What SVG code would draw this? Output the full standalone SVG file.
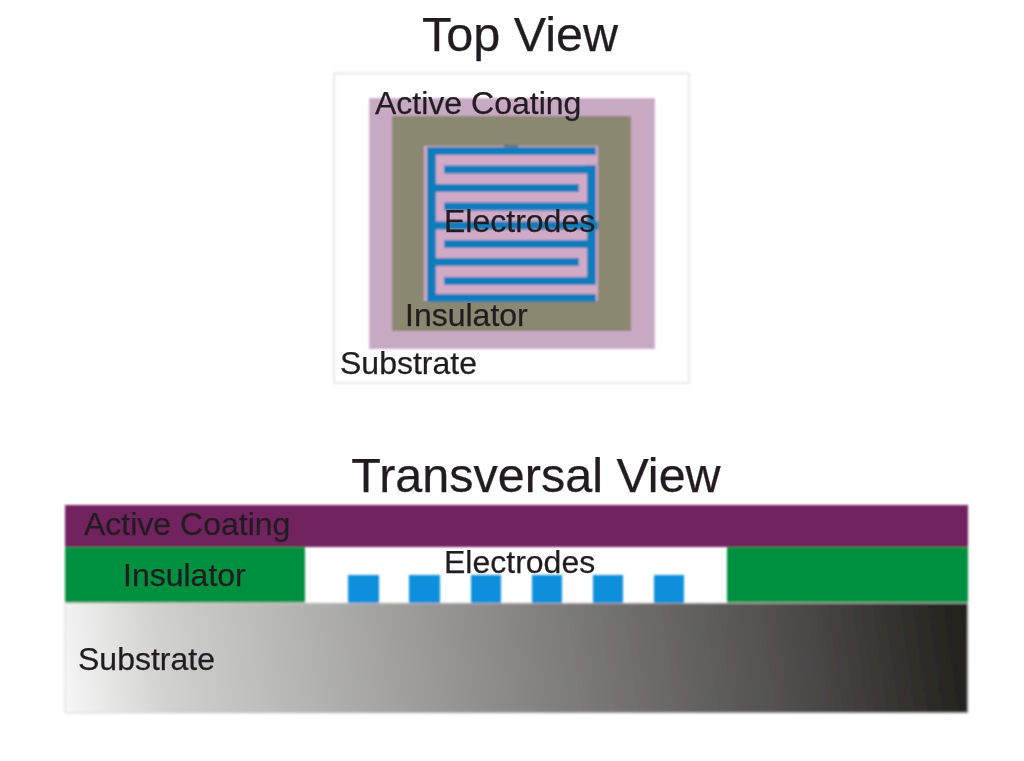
<svg xmlns="http://www.w3.org/2000/svg" width="1024" height="761" viewBox="0 0 1024 761">
<style>
text{font-family:"Liberation Sans",Arial,sans-serif;fill:#231f20;stroke:#231f20;stroke-width:0.25px}
.lab{font-size:32px}
.title{font-size:48.500px}
.e{fill:#0a7dbb}
.b{fill:#0f8fdc}
</style>
<defs>
<linearGradient id="sub" gradientUnits="userSpaceOnUse" x1="65" y1="725" x2="965" y2="600">
<stop offset="0" stop-color="#f8f8f8"/><stop offset="0.12" stop-color="#d0d0cf"/><stop offset="0.5" stop-color="#888786"/><stop offset="0.8" stop-color="#4f4d4c"/><stop offset="1" stop-color="#231f1c"/>
</linearGradient>
<filter id="soft" x="-2%" y="-2%" width="104%" height="104%"><feGaussianBlur stdDeviation="0.8"/></filter>
<filter id="softT" x="-5%" y="-20%" width="110%" height="140%"><feGaussianBlur stdDeviation="0.7"/></filter>
</defs>
<rect width="1024" height="761" fill="#fff"/>
<g filter="url(#soft)">
<g id="top-substrate"><rect x="334" y="73.500" width="355" height="309.500" fill="#fff" stroke="#e8e8e8" stroke-width="2"/></g>
<g id="top-coating"><rect x="369" y="98" width="286" height="251" fill="#c8a9c4"/></g>
<g id="top-insulator"><rect x="392" y="116" width="239" height="215" fill="#8a8871"/></g>
<g id="top-electrodes">
<rect x="424" y="146" width="174" height="155" fill="#d1aac8"/>
<rect x="504" y="144.500" width="14" height="4" fill="#6d7478"/>
<g class="e">
<rect x="427" y="147" width="9" height="154.500"/>
<rect x="427" y="147" width="169" height="8"/>
<rect x="427" y="184" width="152" height="8"/>
<rect x="427" y="221.500" width="171" height="8"/>
<rect x="427" y="258" width="152" height="8"/>
<rect x="427" y="294" width="169" height="8"/>
<rect x="587" y="165.500" width="9" height="119"/>
<rect x="444" y="165.500" width="152" height="8"/>
<rect x="444" y="202.500" width="152" height="8"/>
<rect x="444" y="240" width="152" height="8"/>
<rect x="444" y="277" width="152" height="8"/>
</g>
</g>
<g id="side-coating"><rect x="65" y="505" width="903" height="42" fill="#72245e"/></g>
<g id="side-insulator"><rect x="65" y="547" width="240" height="56" fill="#00913f"/><rect x="727" y="547" width="241" height="56" fill="#00913f"/></g>
<g id="side-substrate"><rect x="65" y="603" width="903" height="110" fill="url(#sub)" stroke="#d9d9d9" stroke-width="1"/></g>
<g id="side-electrodes" class="b">
<rect x="348" y="575" width="31" height="28"/>
<rect x="409" y="575" width="31" height="28"/>
<rect x="471" y="575" width="30" height="28"/>
<rect x="532" y="575" width="30" height="28"/>
<rect x="593" y="575" width="30" height="28"/>
<rect x="654" y="575" width="30" height="28"/>
</g>
</g>
<g filter="url(#softT)">
<text class="title" x="520" y="51" text-anchor="middle">Top View</text>
<text class="title" x="536" y="492" text-anchor="middle">Transversal View</text>
<text class="lab" x="375" y="114">Active Coating</text>
<text class="lab" x="444" y="232">Electrodes</text>
<text class="lab" x="405" y="326">Insulator</text>
<text class="lab" x="340" y="374">Substrate</text>
<text class="lab" x="84" y="535">Active Coating</text>
<text class="lab" x="123" y="586">Insulator</text>
<text class="lab" x="444" y="573">Electrodes</text>
<text class="lab" x="78" y="670">Substrate</text>
</g>
</svg>
